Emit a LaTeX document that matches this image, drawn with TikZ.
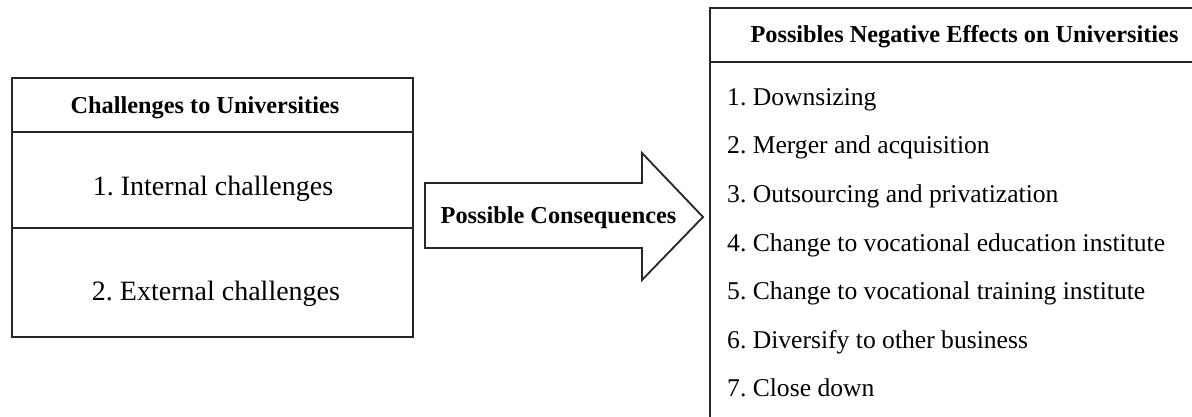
\documentclass[tikz,border=0pt]{standalone}
\usepackage{fontspec}
\setmainfont{Liberation Serif}
\frenchspacing
\begin{document}
\begin{tikzpicture}[x=1pt,y=-1pt,
  cell/.style={draw=black!85, line width=1.8pt, inner sep=0pt},
  hdr/.style={font=\bfseries\fontsize{24.3}{28}\selectfont, anchor=base, inner sep=0pt},
  litem/.style={font=\fontsize{28}{32}\selectfont, anchor=base, inner sep=0pt},
  ritem/.style={font=\fontsize{25.6}{30}\selectfont, anchor=base west, inner sep=0pt}]
\useasboundingbox (0,0) rectangle (1192,417);
\fill[white] (0,0) rectangle (1192,417);
% left box
\node[cell, minimum width=401pt, minimum height=54pt] (lh) at (212.5,105) {};
\node[cell, minimum width=401pt, minimum height=96pt] (l1) at (212.5,180) {};
\node[cell, minimum width=401pt, minimum height=109pt] (l2) at (212.5,282.5) {};
\node[hdr] (lht) at (205,114) {Challenges to Universities};
\node[litem] (l1t) at (213,196) {1. Internal challenges};
\node[litem] (l2t) at (216,300) {2. External challenges};
% arrow
\draw[line width=1.8pt, draw=black!85, line join=miter]
  (425,183) -- (642,183) -- (642,153) -- (703,217) -- (642,280) -- (642,248) -- (425,248) -- cycle;
\node[hdr] (arr) at (558.5,223) {Possible Consequences};
% right box
\node[cell, minimum width=484pt, minimum height=54pt] (rh) at (952,35) {};
\node[cell, minimum width=484pt, minimum height=358pt] (rb) at (952,241) {};
\node[hdr] (rht) at (964.5,43) {Possibles Negative Effects on Universities};
\node[ritem] (r1) at (727,106) {1. Downsizing};
\node[ritem] (r2) at (727,154) {2. Merger and acquisition};
\node[ritem] (r3) at (727,203) {3. Outsourcing and privatization};
\node[ritem] (r4) at (727,251) {4. Change to vocational education institute};
\node[ritem] (r5) at (727,299) {5. Change to vocational training institute};
\node[ritem] (r6) at (727,348) {6. Diversify to other business};
\node[ritem] (r7) at (727,396) {7. Close down};
\end{tikzpicture}
\end{document}
